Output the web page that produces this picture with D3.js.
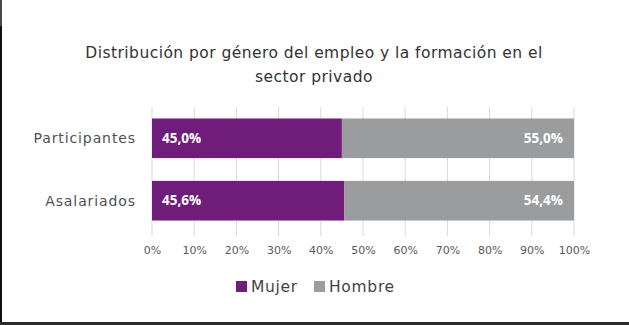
<!DOCTYPE html>
<html>
<head>
<meta charset="utf-8">
<script src="https://cdn.jsdelivr.net/npm/d3@7"></script>
<style>
  body { margin: 0; background: #fff; }
  svg { display: block; }
</style>
</head>
<body>
<div id="chart"></div>
<script>
// data
const categories = ['Participantes', 'Asalariados'];
const mujer = [45.0, 45.6];
const hombre = [55.0, 54.4];
const seriesNames = ['Mujer', 'Hombre'];
const seriesColors = ['#701c7a', '#9a9c9d'];
const xTicks = [0, 10, 20, 30, 40, 50, 60, 70, 80, 90, 100];

const width = 629, height = 325;
const margin = { left: 152, right: 55, top: 107, bottom: 89 };
const labelFont = '"DejaVu Sans", Verdana, sans-serif';

const svg = d3.select('#chart').append('svg')
  .attr('width', width)
  .attr('height', height);

svg.append('rect').attr('width', width).attr('height', height).attr('fill', '#fff');

// dark frame bits from the screenshot edges
svg.append('rect').attr('x', 0).attr('y', 0).attr('width', 2).attr('height', 26).attr('fill', '#4a4a4a');
svg.append('rect').attr('x', 0).attr('y', 26).attr('width', 2).attr('height', height - 26).attr('fill', '#111');
svg.append('rect').attr('x', 0).attr('y', 322).attr('width', width).attr('height', 3).attr('fill', '#2b2b2b');

// title
const title = svg.append('text')
  .attr('text-anchor', 'middle')
  .style('font-family', labelFont)
  .style('font-size', '15.5px')
  .style('letter-spacing', '0.45px')
  .style('fill', '#333');
title.append('tspan').attr('x', 314).attr('y', 58).text('Distribución por género del empleo y la formación en el');
title.append('tspan').attr('x', 314).attr('y', 82).text('sector privado');

const x = d3.scaleLinear().domain([0, 100]).range([margin.left, width - margin.right]);
const y = d3.scaleBand().domain(categories).range([106, 233]).paddingInner(0.365).paddingOuter(0.2);

// grid lines
svg.append('g')
  .selectAll('line')
  .data(xTicks)
  .join('line')
  .attr('x1', d => x(d)).attr('x2', d => x(d))
  .attr('y1', margin.top).attr('y2', height - margin.bottom)
  .attr('stroke', '#d9d9d9')
  .attr('stroke-width', 1);

// axis labels
const xAxis = d3.axisBottom(x).tickValues(xTicks).tickSize(0).tickFormat(d => d + '%');
const gx = svg.append('g')
  .attr('transform', `translate(0,${height - margin.bottom + 7})`)
  .call(xAxis);
gx.select('.domain').remove();
gx.selectAll('text')
  .style('font-family', labelFont)
  .style('font-size', '11px')
  .style('fill', '#595959');

const stacked = categories.map((c, i) => ({ cat: c, values: [mujer[i], hombre[i]] }));

const rows = svg.append('g').selectAll('g')
  .data(stacked)
  .join('g')
  .attr('transform', d => `translate(0,${y(d.cat)})`);

rows.each(function (d) {
  const g = d3.select(this);
  let acc = 0;
  d.values.forEach((v, k) => {
    g.append('rect')
      .attr('x', x(acc))
      .attr('y', 0)
      .attr('width', x(acc + v) - x(acc))
      .attr('height', y.bandwidth())
      .attr('fill', seriesColors[k]);
    acc += v;
  });
  // value labels
  g.append('text')
    .attr('x', x(0) + 10)
    .attr('y', y.bandwidth() / 2)
    .attr('dy', '0.35em')
    .style('font-family', '"Open Sans", sans-serif')
    .style('font-weight', 'bold')
    .style('font-size', '13.5px')
    .style('fill', '#fff')
    .text(d.values[0].toFixed(1).replace('.', ',') + '%');
  g.append('text')
    .attr('x', x(100) - 11)
    .attr('y', y.bandwidth() / 2)
    .attr('dy', '0.35em')
    .attr('text-anchor', 'end')
    .style('font-family', '"Open Sans", sans-serif')
    .style('font-weight', 'bold')
    .style('font-size', '13.5px')
    .style('fill', '#fff')
    .text(d.values[1].toFixed(1).replace('.', ',') + '%');
  // category label
  g.append('text')
    .attr('x', 136)
    .attr('y', y.bandwidth() / 2)
    .attr('dy', '0.35em')
    .attr('text-anchor', 'end')
    .style('font-family', labelFont)
    .style('font-size', '14px')
    .style('letter-spacing', '0.9px')
    .style('fill', '#505050')
    .text(d.cat);
});

// legend
const legendX = [236, 314];
const legend = svg.append('g').selectAll('g')
  .data(seriesNames)
  .join('g')
  .attr('transform', (d, i) => `translate(${legendX[i]},281)`);
legend.append('rect')
  .attr('width', 11).attr('height', 11)
  .attr('fill', (d, i) => seriesColors[i]);
legend.append('text')
  .attr('x', 15).attr('y', 5.5).attr('dy', '0.35em')
  .style('font-family', labelFont)
  .style('font-size', '15.5px')
  .style('letter-spacing', '0.7px')
  .style('fill', '#444')
  .text(d => d);
</script>
</body>
</html>
